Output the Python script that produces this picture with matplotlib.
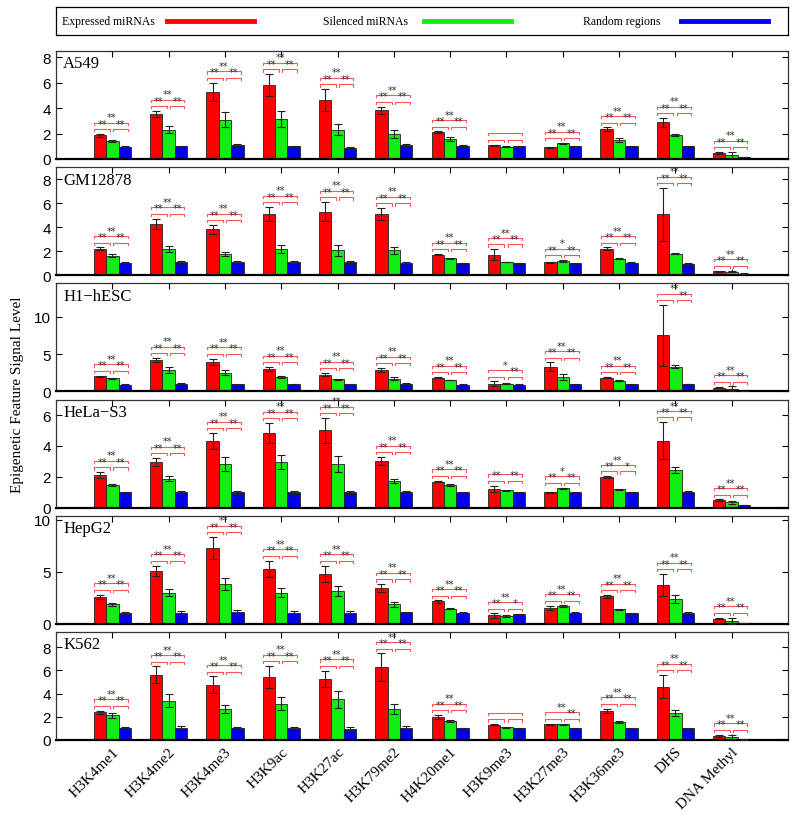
import matplotlib
matplotlib.use("Agg")
import matplotlib.pyplot as plt
from matplotlib.lines import Line2D
import numpy as np

features = ["H3K4me1", "H3K4me2", "H3K4me3", "H3K9ac", "H3K27ac", "H3K79me2",
            "H4K20me1", "H3K9me3", "H3K27me3", "H3K36me3", "DHS", "DNA Methyl"]
cell_lines = ["A549", "GM12878", "H1\u2212hESC", "HeLa\u2212S3", "HepG2", "K562"]
y_limits = [8.5, 9.0, 14.5, 7.0, 10.4, 9.3]
y_ticks = [[0, 2, 4, 6, 8], [0, 2, 4, 6, 8], [0, 5, 10], [0, 2, 4, 6], [0, 5, 10], [0, 2, 4, 6, 8]]

# expressed / silenced / random means and error half-widths
a549_red = [1.87, 3.54, 5.3, 5.82, 4.64, 3.82, 2.1, 1.09, 0.93, 2.34, 2.88, 0.47]
a549_red_err = [0.1, 0.25, 0.7, 0.85, 0.85, 0.3, 0.07, 0.05, 0.04, 0.15, 0.35, 0.05]
a549_green = [1.41, 2.31, 3.08, 3.15, 2.31, 1.97, 1.58, 0.96, 1.22, 1.5, 1.9, 0.31]
a549_green_err = [0.05, 0.25, 0.6, 0.6, 0.45, 0.35, 0.15, 0.04, 0.05, 0.15, 0.1, 0.25]
a549_blue = [0.97, 1.0, 1.08, 1.0, 0.9, 1.08, 1.04, 0.99, 1.01, 1.01, 0.99, 0.16]
a549_blue_err = [0.03, 0.05, 0.08, 0.06, 0.06, 0.08, 0.03, 0.03, 0.03, 0.03, 0.03, 0.02]

gm_red = [2.19, 4.27, 3.82, 5.08, 5.28, 5.08, 1.71, 1.71, 1.07, 2.22, 5.08, 0.34]
gm_red_err = [0.12, 0.45, 0.35, 0.6, 0.8, 0.5, 0.06, 0.45, 0.05, 0.1, 2.2, 0.05]
gm_green = [1.63, 2.16, 1.77, 2.19, 2.08, 2.08, 1.43, 1.1, 1.2, 1.38, 1.8, 0.28]
gm_green_err = [0.1, 0.25, 0.2, 0.35, 0.45, 0.3, 0.04, 0.04, 0.06, 0.05, 0.05, 0.05]
gm_blue = [1.04, 1.07, 1.07, 1.07, 1.07, 0.98, 0.98, 0.98, 0.98, 1.04, 0.96, 0.14]
gm_blue_err = [0.04, 0.15, 0.08, 0.08, 0.15, 0.15, 0.04, 0.04, 0.04, 0.04, 0.04, 0.02]

h1_red = [2.03, 4.19, 4.0, 3.02, 2.25, 2.84, 1.85, 1.04, 3.29, 1.85, 7.52, 0.5]
h1_red_err = [0.08, 0.3, 0.4, 0.25, 0.2, 0.3, 0.07, 0.3, 0.6, 0.07, 4.1, 0.05]
h1_green = [1.76, 2.88, 2.52, 1.94, 1.62, 1.71, 1.53, 1.04, 1.94, 1.44, 3.29, 0.36]
h1_green_err = [0.07, 0.4, 0.3, 0.1, 0.05, 0.2, 0.05, 0.05, 0.4, 0.05, 0.2, 0.3]
h1_blue = [0.9, 1.04, 0.95, 0.95, 0.95, 1.04, 0.9, 0.9, 0.95, 0.95, 0.99, 0.09]
h1_blue_err = [0.04, 0.05, 0.05, 0.05, 0.05, 0.05, 0.04, 0.04, 0.04, 0.04, 0.05, 0.02]

hela_red = [2.09, 2.96, 4.33, 4.84, 5.0, 3.04, 1.69, 1.22, 1.0, 1.96, 4.33, 0.49]
hela_red_err = [0.2, 0.25, 0.5, 0.65, 0.8, 0.25, 0.05, 0.2, 0.04, 0.07, 1.2, 0.04]
hela_green = [1.47, 1.87, 2.82, 2.93, 2.82, 1.73, 1.44, 1.11, 1.24, 1.18, 2.44, 0.36]
hela_green_err = [0.06, 0.15, 0.45, 0.45, 0.5, 0.15, 0.07, 0.04, 0.05, 0.05, 0.2, 0.1]
hela_blue = [1.0, 1.0, 1.0, 1.0, 1.0, 1.02, 1.0, 0.98, 1.0, 1.0, 1.02, 0.16]
hela_blue_err = [0.03, 0.05, 0.1, 0.1, 0.1, 0.04, 0.03, 0.03, 0.03, 0.03, 0.04, 0.02]

hepg2_red = [2.6, 5.1, 7.3, 5.29, 4.81, 3.46, 2.15, 0.8, 1.54, 2.63, 3.75, 0.51]
hepg2_red_err = [0.2, 0.5, 1.05, 0.8, 0.8, 0.35, 0.1, 0.2, 0.2, 0.15, 1.05, 0.05]
hepg2_green = [1.86, 3.01, 3.85, 3.01, 3.14, 1.86, 1.47, 0.74, 1.67, 1.41, 2.4, 0.29]
hepg2_green_err = [0.1, 0.3, 0.6, 0.45, 0.5, 0.25, 0.05, 0.1, 0.1, 0.05, 0.35, 0.3]
hepg2_blue = [1.03, 1.03, 1.15, 1.03, 1.03, 1.12, 1.06, 0.9, 1.06, 1.03, 1.06, 0.06]
hepg2_blue_err = [0.1, 0.2, 0.15, 0.2, 0.2, 0.06, 0.05, 0.05, 0.05, 0.05, 0.08, 0.02]

k562_red = [2.37, 5.63, 4.77, 5.43, 5.26, 6.26, 2.0, 1.3, 1.35, 2.5, 4.6, 0.35]
k562_red_err = [0.15, 0.7, 0.7, 0.95, 0.7, 1.2, 0.15, 0.05, 0.05, 0.2, 1.0, 0.05]
k562_green = [2.11, 3.4, 2.66, 3.14, 3.49, 2.66, 1.65, 1.1, 1.35, 1.55, 2.3, 0.25]
k562_green_err = [0.2, 0.55, 0.35, 0.55, 0.75, 0.45, 0.07, 0.04, 0.05, 0.05, 0.25, 0.2]
k562_blue = [1.06, 1.06, 1.06, 1.06, 0.97, 1.06, 1.0, 1.0, 1.0, 1.0, 1.0, 0.05]
k562_blue_err = [0.04, 0.15, 0.06, 0.1, 0.15, 0.15, 0.04, 0.04, 0.04, 0.04, 0.05, 0.02]

# significance labels: (expressed vs silenced, silenced vs random, expressed vs random)
S = ("**", "**", "**")
a549_sig = [S] * 7 + [("", "", "")] + [S] * 4
gm_sig = [S] * 8 + [("**", "**", "*")] + [S] * 3
h1_sig = [S] * 7 + [("", "**", "*")] + [S] * 2 + [("", "**", "**")] + [S]
hela_sig = [S] * 7 + [("**", "**", ""), ("**", "**", "*"), ("**", "*", "**")] + [S] * 2
hepg2_sig = [S] * 7 + [("**", "*", "**")] + [S] * 4
k562_sig = [S] * 7 + [("", "", ""), ("", "**", "**")] + [S] * 3

panels = [
    (a549_red, a549_red_err, a549_green, a549_green_err, a549_blue, a549_blue_err, a549_sig),
    (gm_red, gm_red_err, gm_green, gm_green_err, gm_blue, gm_blue_err, gm_sig),
    (h1_red, h1_red_err, h1_green, h1_green_err, h1_blue, h1_blue_err, h1_sig),
    (hela_red, hela_red_err, hela_green, hela_green_err, hela_blue, hela_blue_err, hela_sig),
    (hepg2_red, hepg2_red_err, hepg2_green, hepg2_green_err, hepg2_blue, hepg2_blue_err, hepg2_sig),
    (k562_red, k562_red_err, k562_green, k562_green_err, k562_blue, k562_blue_err, k562_sig),
]

RED, GREEN, BLUE = "#ff0000", "#11ee11", "#0000ee"
BRACKET = "#ff5555"
SERIF = "Liberation Serif"
SANS = "Liberation Sans"

W, H = 796, 829
fig = plt.figure(figsize=(W / 100, H / 100), dpi=100)

x = np.arange(1, len(features) + 1)
bw = 0.22


def bracket(ax, x0, x1, y, tick, label):
    ax.plot([x0, x0, x1, x1], [y - tick, y, y, y - tick], color=BRACKET, lw=0.8,
            clip_on=False, zorder=4)
    if label:
        ax.text((x0 + x1) / 2, y + tick * 0.2, label, ha="center", va="bottom",
                fontsize=7, color="#333333", zorder=5)


left, right = 56, 788
for i, (name, ylim, yt, data) in enumerate(zip(cell_lines, y_limits, y_ticks, panels)):
    red, red_e, green, green_e, blue, blue_e, sig = data
    top = 52 + i * 116.2
    ax = fig.add_axes([left / W, 1 - (top + 108) / H, (right - left) / W, 108 / H])
    for off, vals, errs, col in [(-bw, red, red_e, RED), (0, green, green_e, GREEN),
                                 (bw, blue, blue_e, BLUE)]:
        ax.bar(x + off, vals, bw, color=col, edgecolor="#222222", linewidth=0.6, zorder=2)
        ax.errorbar(x + off, vals, yerr=errs, fmt="none", ecolor="#222222",
                    elinewidth=0.8, capsize=3, capthick=0.8, zorder=3)
    tops = np.max([np.add(red, red_e), np.add(green, green_e), np.add(blue, blue_e)], axis=0)
    for j in range(len(features)):
        low = tops[j] + 0.045 * ylim
        up = low + 0.06 * ylim
        tick = 0.02 * ylim
        c = x[j]
        bracket(ax, c - 0.32, c - 0.035, low, tick, sig[j][0])
        bracket(ax, c + 0.02, c + 0.28, low, tick, sig[j][1])
        bracket(ax, c - 0.32, c + 0.28, up, tick, sig[j][2])
    ax.set_xlim(0, 13)
    ax.set_ylim(0, ylim)
    ax.set_yticks(yt)
    ax.set_xticks(x)
    ax.tick_params(axis="both", direction="in", top=True, right=True, length=4,
                   width=0.8, labelsize=11)
    for lab in ax.get_yticklabels():
        lab.set_fontfamily(SANS)
    if i < len(cell_lines) - 1:
        ax.set_xticklabels([])
    else:
        ax.set_xticklabels(features, rotation=45, ha="right", rotation_mode="anchor",
                           fontsize=11, fontfamily=SERIF)
    for sp in ax.spines.values():
        sp.set_linewidth(0.9)
        sp.set_color("#333333")
    ax.spines["bottom"].set_linewidth(1.6)
    ax.spines["bottom"].set_color("black")
    ax.text(0.01, 0.96, name, transform=ax.transAxes, ha="left", va="top",
            fontsize=12, fontfamily=SERIF)

fig.text(18 / W, 1 - 395 / H, "Epigenetic Feature Signal Level", rotation=90,
         ha="center", va="center", fontsize=11, fontfamily=SERIF)

# legend strip at top
lg = fig.add_axes([left / W, 1 - 36 / H, (right - left) / W, 28 / H])
lg.set_xlim(left, right)
lg.set_ylim(0, 1)
lg.set_xticks([])
lg.set_yticks([])
for sp in lg.spines.values():
    sp.set_linewidth(0.9)
for txt, tx, x0, x1, col in [("Expressed miRNAs", 62, 167, 254, RED),
                             ("Silenced miRNAs", 323, 424, 511, GREEN),
                             ("Random regions", 583, 681, 768, BLUE)]:
    lg.text(tx, 0.5, txt, ha="left", va="center", fontsize=8.5, fontfamily=SERIF)
    lg.add_line(Line2D([x0, x1], [0.5, 0.5], color=col, lw=3.5))

fig.savefig("out.png", dpi=100)
